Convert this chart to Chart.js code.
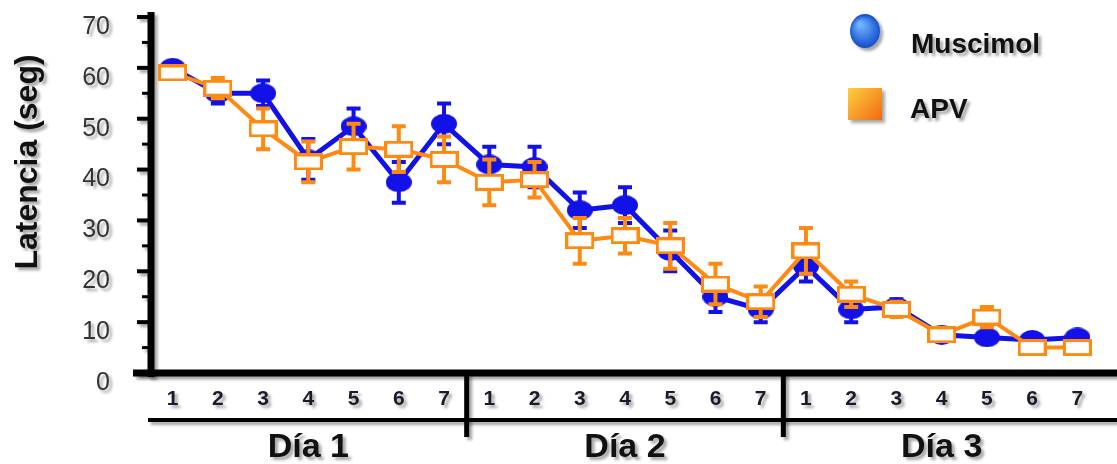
<!DOCTYPE html>
<html>
<head>
<meta charset="utf-8">
<script src="https://cdn.jsdelivr.net/npm/chart.js@4/dist/chart.umd.min.js"></script>
<style>
  html, body { margin: 0; padding: 0; background: #fff; }
  canvas { display: block; }
</style>
</head>
<body>
<canvas id="grafica" width="1117" height="464"></canvas>
<script>
// datos
const sesiones = ['1', '2', '3', '4', '5', '6', '7',
                  '1', '2', '3', '4', '5', '6', '7',
                  '1', '2', '3', '4', '5', '6', '7'];
const dias = ['Día 1', 'Día 2', 'Día 3'];
const yTicks = [0, 10, 20, 30, 40, 50, 60, 70];

const muscimol    = [60, 55, 55, 42, 48.5, 37.5, 49, 41, 40.5, 32, 33, 24, 15, 12.5, 21, 12.5, 13, 7.5, 7, 6.5, 7];
const muscimolErr = [1, 2, 2.5, 4, 3.5, 4, 4, 3.5, 4, 3.5, 3.5, 4, 3, 2.5, 3, 2.5, 1.5, 1, 1, 1, 1];
const apv         = [59, 56, 48, 41.5, 44.5, 44, 42, 37.5, 38, 26, 27, 25, 17.5, 14, 24, 15.5, 12.5, 7.5, 11, 5, 5];
const apvErr      = [1, 2, 4, 4, 4.5, 4.5, 4.5, 4.5, 3.5, 4.5, 3.5, 4.5, 4, 3, 4.5, 2.5, 1.5, 1, 2, 1, 1];

const AZUL = '#1212e8';
const NARANJA = '#ff8a12';
const FUENTE = 'Arial, "Liberation Sans", sans-serif';

// marcadores
function marcaElipse() {
    const c = document.createElement('canvas');
    c.width = 26; c.height = 20;
    const g = c.getContext('2d');
    g.fillStyle = AZUL;
    g.beginPath();
    g.ellipse(13, 10, 13, 10, 0, 0, Math.PI * 2);
    g.fill();
    return c;
}
function marcaCaja() {
    const c = document.createElement('canvas');
    c.width = 29; c.height = 17;
    const g = c.getContext('2d');
    g.fillStyle = '#fff';
    g.fillRect(0, 0, 29, 17);
    g.strokeStyle = NARANJA;
    g.lineWidth = 3;
    g.strokeRect(1.5, 1.5, 26, 14);
    return c;
}

const errores = [muscimolErr, apvErr];
const colores = [AZUL, NARANJA];

function sombra(ctx) {
    ctx.shadowColor = 'rgba(0,0,0,0.35)';
    ctx.shadowOffsetX = 3;
    ctx.shadowOffsetY = 3;
    ctx.shadowBlur = 3;
}

const decoracion = {
    id: 'decoracion',
    beforeDraw(chart) {
        chart.ctx.save();
        sombra(chart.ctx);
    },
    beforeDatasetsDraw(chart) {
        const ctx = chart.ctx;
        const x = chart.scales.x, y = chart.scales.y;
        const left = chart.chartArea.left, bottom = chart.chartArea.bottom;
        ctx.strokeStyle = '#000';
        ctx.lineCap = 'butt';
        // eje y
        ctx.lineWidth = 7;
        ctx.beginPath();
        ctx.moveTo(left + 1, 12);
        ctx.lineTo(left + 1, bottom + 4);
        ctx.stroke();
        for (let v = 0; v <= 70; v += 5) {
            const py = y.getPixelForValue(v);
            ctx.lineWidth = v % 10 === 0 ? 4 : 3;
            ctx.beginPath();
            ctx.moveTo(left - (v % 10 === 0 ? 13 : 8), py);
            ctx.lineTo(left, py);
            ctx.stroke();
        }
        // eje x
        ctx.lineWidth = 7;
        ctx.beginPath();
        ctx.moveTo(left - 17, bottom);
        ctx.lineTo(chart.width, bottom);
        ctx.stroke();
        // linea de los dias
        ctx.lineWidth = 4;
        ctx.beginPath();
        ctx.moveTo(left - 2, 420);
        ctx.lineTo(chart.width, 420);
        ctx.stroke();
        ctx.lineWidth = 5;
        [6, 13].forEach(function (i) {
            const px = (x.getPixelForValue(i) + x.getPixelForValue(i + 1)) / 2;
            ctx.beginPath();
            ctx.moveTo(px, bottom);
            ctx.lineTo(px, 437);
            ctx.stroke();
        });
        // etiquetas de dia
        ctx.fillStyle = '#111';
        ctx.font = 'bold 34px ' + FUENTE;
        ctx.textAlign = 'center';
        ctx.textBaseline = 'alphabetic';
        dias.forEach(function (d, k) {
            ctx.fillText(d, x.getPixelForValue(3 + k * 7), 457);
        });
        // titulo eje y
        ctx.save();
        ctx.translate(37, 162);
        ctx.rotate(-Math.PI / 2);
        ctx.font = 'bold 32px ' + FUENTE;
        ctx.fillText('Latencia (seg)', 0, 0);
        ctx.restore();
        // leyenda
        let gr = ctx.createRadialGradient(860, 24, 2, 865, 31, 16);
        gr.addColorStop(0, '#6fb4ff');
        gr.addColorStop(1, '#1450d0');
        ctx.fillStyle = gr;
        ctx.beginPath();
        ctx.ellipse(865, 31, 15, 17, 0, 0, Math.PI * 2);
        ctx.fill();
        gr = ctx.createLinearGradient(848, 88, 882, 120);
        gr.addColorStop(0, '#ffd040');
        gr.addColorStop(1, '#f06a10');
        ctx.fillStyle = gr;
        ctx.fillRect(848, 88, 34, 32);
        ctx.fillStyle = '#111';
        ctx.font = 'bold 28px ' + FUENTE;
        ctx.textAlign = 'left';
        ctx.fillText('Muscimol', 911, 53);
        ctx.fillText('APV', 910, 118);
        ctx.restore();
    },
    beforeDatasetDraw(chart, args) {
        // barras de error
        const ctx = chart.ctx;
        const meta = args.meta;
        const ds = chart.data.datasets[args.index];
        const err = errores[args.index];
        const y = chart.scales.y;
        ctx.save();
        ctx.strokeStyle = colores[args.index];
        ctx.lineWidth = 4;
        meta.data.forEach(function (pt, i) {
            const top = y.getPixelForValue(ds.data[i] + err[i]);
            const bot = y.getPixelForValue(ds.data[i] - err[i]);
            ctx.beginPath();
            ctx.moveTo(pt.x, top);
            ctx.lineTo(pt.x, bot);
            ctx.moveTo(pt.x - 7, top);
            ctx.lineTo(pt.x + 7, top);
            ctx.moveTo(pt.x - 7, bot);
            ctx.lineTo(pt.x + 7, bot);
            ctx.stroke();
        });
        ctx.restore();
    }
};

const ctx = document.getElementById('grafica').getContext('2d');
const chart = new Chart(ctx, {
    type: 'line',
    data: {
        labels: sesiones,
        datasets: [{
            label: 'Muscimol',
            data: muscimol,
            borderColor: AZUL,
            backgroundColor: AZUL,
            borderWidth: 5,
            pointStyle: marcaElipse(),
            pointRadius: 12,
            order: 2
        }, {
            label: 'APV',
            data: apv,
            borderColor: NARANJA,
            backgroundColor: NARANJA,
            borderWidth: 4,
            pointStyle: marcaCaja(),
            pointRadius: 12,
            order: 1
        }]
    },
    options: {
        responsive: false,
        animation: false,
        devicePixelRatio: 1,
        layout: { padding: { top: 0, right: 15, left: 0, bottom: 0 } },
        plugins: {
            legend: { display: false },
            tooltip: { enabled: false }
        },
        scales: {
            x: {
                offset: true,
                grid: { display: false, drawTicks: false },
                border: { display: false },
                ticks: {
                    color: '#1a1a2a',
                    font: { family: FUENTE, size: 21, weight: 'bold' },
                    padding: 14,
                    maxRotation: 0,
                    autoSkip: false
                },
                afterFit: function (scale) {
                    scale.height = 91;
                    scale.paddingLeft = 0;
                    scale.paddingRight = 0;
                }
            },
            y: {
                min: 0,
                max: 70,
                grid: { display: false, drawTicks: false },
                border: { display: false },
                afterBuildTicks: function (scale) {
                    scale.ticks = yTicks.map(function (v) { return { value: v }; });
                },
                ticks: {
                    color: '#333',
                    font: { family: FUENTE, size: 25 },
                    padding: 40,
                    labelOffset: 10
                },
                afterFit: function (scale) {
                    scale.width = 150;
                    scale.paddingTop = 15;
                    scale.paddingBottom = 0;
                }
            }
        }
    },
    plugins: [decoracion]
});
</script>
</body>
</html>
